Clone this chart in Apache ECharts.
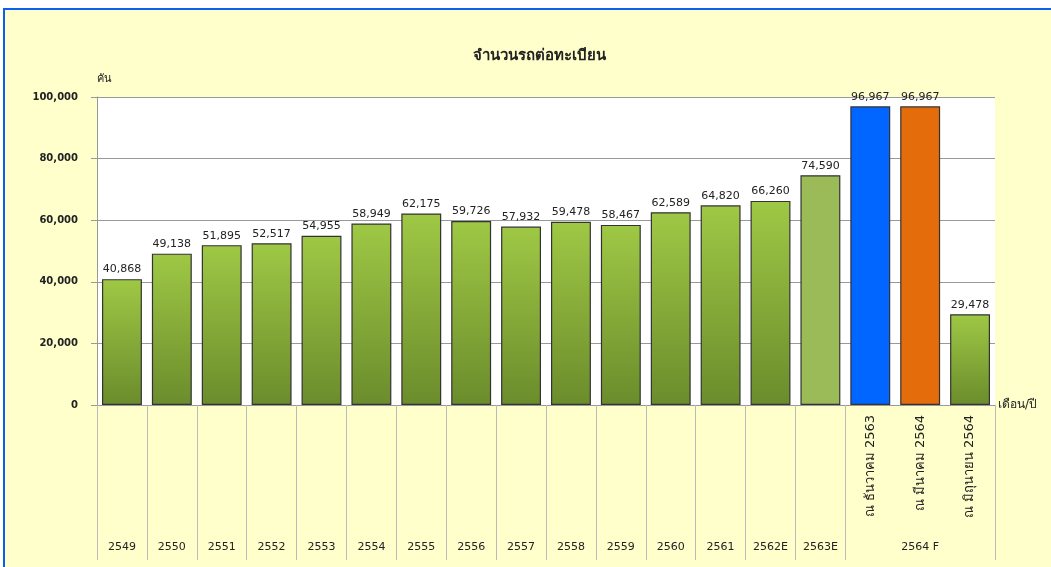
<!DOCTYPE html>
<html>
<head>
<meta charset="utf-8">
<script src="https://cdn.jsdelivr.net/npm/echarts@6/dist/echarts.min.js"></script>
<style>
  html, body { margin: 0; padding: 0; background: #fff; }
  #main { width: 1051px; height: 567px; }
</style>
</head>
<body>
<div id="main"></div>
<script>
// categories and values
var years = ['2549', '2550', '2551', '2552', '2553', '2554', '2555', '2556', '2557',
  '2558', '2559', '2560', '2561', '2562E', '2563E', '', '2564 F', ''];
var subLabels = ['', '', '', '', '', '', '', '', '', '', '', '', '', '', '',
  'ณ ธันวาคม 2563', 'ณ มีนาคม 2564', 'ณ มิถุนายน 2564'];
var cars = [40868, 49138, 51895, 52517, 54955, 58949, 62175, 59726, 57932,
  59478, 58467, 62589, 64820, 66260, 74590, 96967, 96967, 29478];
var yTicks = [0, 20000, 40000, 60000, 80000, 100000];

var myChart = echarts.init(document.getElementById('main'));

var greenGrad = new echarts.graphic.LinearGradient(0, 0, 0, 1, [
  { offset: 0, color: '#9fc845' },
  { offset: 1, color: '#6b8c2c' }
]);

// bar colours: 2563E flat, December blue, March orange, rest gradient
var barData = cars.map(function (v, i) {
  var c = greenGrad;
  if (i === 14) c = '#9bbb59';
  if (i === 15) c = '#0066ff';
  if (i === 16) c = '#e46c0a';
  return { value: v, itemStyle: { color: c } };
});

var font = 'DejaVu Sans, Tahoma, sans-serif';

var option = {
  backgroundColor: '#ffffff',
  animation: false,
  graphic: [{
    type: 'rect', z: -100, silent: true,
    shape: { x: 4, y: 9, width: 1047, height: 558 },
    style: { fill: '#ffffcc' }
  }, {
    type: 'line', z: -99, silent: true,
    shape: { x1: 4, y1: 9, x2: 1051, y2: 9 },
    style: { stroke: '#0a5ff0', lineWidth: 2 }
  }, {
    type: 'line', z: -99, silent: true,
    shape: { x1: 4, y1: 8, x2: 4, y2: 567 },
    style: { stroke: '#0a5ff0', lineWidth: 2 }
  }],
  title: {
    text: 'จำนวนรถต่อทะเบียน',
    left: 468,
    top: 44,
    textStyle: { fontFamily: font, fontSize: 15, fontWeight: 'bold', color: '#222' }
  },
  grid: {
    left: 97, right: 56, top: 97, bottom: 162,
    show: true, backgroundColor: '#ffffff', borderWidth: 0
  },
  xAxis: [{
    type: 'category',
    data: years,
    name: 'เดือน/ปี',
    nameLocation: 'end',
    nameGap: 3,
    nameTextStyle: { fontFamily: font, fontSize: 12, color: '#222', padding: [0, 0, 12, 0] },
    axisLine: { show: true, lineStyle: { color: '#999' } },
    axisTick: {
      show: true, length: 155,
      interval: function (i) { return i <= 15; },
      lineStyle: { color: '#bbb' }
    },
    axisLabel: { interval: 0, margin: 137, fontFamily: font, fontSize: 11, color: '#222' }
  }, {
    type: 'category',
    data: subLabels,
    position: 'bottom',
    axisLine: { show: false },
    axisTick: { show: false },
    axisLabel: { interval: 0, rotate: 90, margin: 10, fontFamily: font, fontSize: 13, color: '#222' }
  }],
  yAxis: {
    type: 'value',
    min: yTicks[0],
    max: yTicks[yTicks.length - 1],
    interval: 20000,
    name: 'คัน',
    nameLocation: 'end',
    nameGap: 12,
    nameTextStyle: { fontFamily: font, fontSize: 11, color: '#222', align: 'left', padding: [0, 0, 0, 0] },
    axisLine: { show: true, lineStyle: { color: '#999' } },
    axisTick: { show: true, length: 6, lineStyle: { color: '#999' } },
    axisLabel: {
      margin: 19, fontFamily: font, fontSize: 10, fontWeight: 'bold', color: '#222',
      formatter: function (v) { return v.toLocaleString('en-US'); }
    },
    splitLine: { lineStyle: { color: '#999' } }
  },
  series: [{
    type: 'bar',
    data: barData,
    barCategoryGap: '20%',
    itemStyle: { borderColor: '#333', borderWidth: 1.2 },
    label: {
      show: true, position: 'top', distance: 4,
      fontFamily: font, fontSize: 11, color: '#222',
      formatter: function (p) { return p.value.toLocaleString('en-US'); }
    }
  }]
};

myChart.setOption(option);
</script>
</body>
</html>
